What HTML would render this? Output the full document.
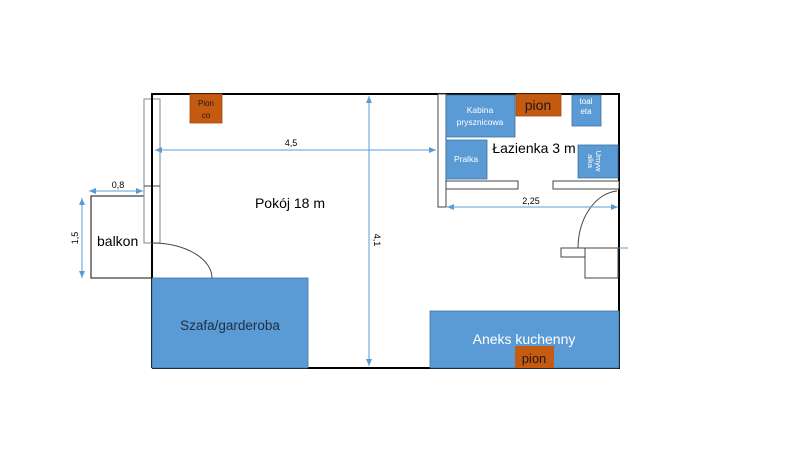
<!DOCTYPE html>
<html><head><meta charset="utf-8"><style>
html,body{margin:0;padding:0;background:#fff;}
svg{display:block;font-family:"Liberation Sans",sans-serif;}
</style></head><body>
<svg width="800" height="450" viewBox="0 0 800 450" xmlns="http://www.w3.org/2000/svg">
<defs>
<marker id="a" markerWidth="8" markerHeight="8" refX="7" refY="4" orient="auto-start-reverse" markerUnits="userSpaceOnUse"><path d="M0,1 L7,4 L0,7 z" fill="#5b9bd5"/></marker>
</defs>
<!-- balcony -->
<rect x="91" y="196" width="61" height="82" fill="none" stroke="#444" stroke-width="1.3"/>
<!-- outer walls -->
<path d="M152,368 L152,94 L619,94 L619,368 L152,368" fill="none" stroke="#000" stroke-width="2"/>
<!-- left window strip -->
<rect x="144" y="99" width="16" height="144" fill="#fff" stroke="#7a8a96" stroke-width="1"/>
<line x1="144" y1="186" x2="160" y2="186" stroke="#444" stroke-width="1"/>
<line x1="152" y1="94" x2="152" y2="243" stroke="#000" stroke-width="2"/>
<!-- left door arc -->
<path d="M152,243 A60,35 0 0 1 212,278" fill="none" stroke="#444" stroke-width="1"/>
<!-- bathroom partition -->
<rect x="438" y="94" width="8" height="113" fill="#fff" stroke="#444" stroke-width="1"/>
<!-- shelves -->
<rect x="446" y="181" width="72" height="8" fill="#fff" stroke="#444" stroke-width="1"/>
<rect x="553" y="181" width="66" height="8" fill="#fff" stroke="#444" stroke-width="1"/>
<!-- bathroom items -->
<rect x="446" y="95" width="69" height="42" fill="#5b9bd5" stroke="#41719c" stroke-width="0.8"/>
<text x="480" y="113" font-size="8.5" fill="#fff" text-anchor="middle">Kabina</text>
<text x="480" y="125" font-size="8.5" fill="#fff" text-anchor="middle">prysznicowa</text>
<rect x="516" y="94" width="45" height="22" fill="#c55a11" stroke="#a04a0e" stroke-width="0.8"/>
<text x="538" y="110" font-size="14" fill="#1a1a1a" text-anchor="middle">pion</text>
<rect x="572" y="95" width="29" height="31" fill="#5b9bd5" stroke="#41719c" stroke-width="0.8"/>
<text x="586" y="104" font-size="8" fill="#fff" text-anchor="middle">toal</text>
<text x="586" y="114" font-size="8" fill="#fff" text-anchor="middle">eta</text>
<rect x="446" y="140" width="41" height="39" fill="#5b9bd5" stroke="#41719c" stroke-width="0.8"/>
<text x="466" y="162" font-size="8.5" fill="#fff" text-anchor="middle">Pralka</text>
<rect x="578" y="145" width="40" height="33" fill="#5b9bd5" stroke="#41719c" stroke-width="0.8"/>
<text transform="translate(596,161) rotate(90)" font-size="7.5" fill="#fff" text-anchor="middle">Umyw</text>
<text transform="translate(588,161) rotate(90)" font-size="7.5" fill="#fff" text-anchor="middle">alka</text>
<text x="534" y="153" font-size="14" fill="#000" text-anchor="middle">Łazienka 3 m</text>
<!-- right door -->
<path d="M617,191 A42,58 0 0 0 578,248" fill="none" stroke="#444" stroke-width="1"/>
<line x1="578" y1="248" x2="628" y2="248" stroke="#5b9bd5" stroke-width="1"/>
<rect x="561" y="248" width="24" height="9" fill="#fff" stroke="#444" stroke-width="1"/>
<rect x="585" y="248" width="33" height="30" fill="#fff" stroke="#444" stroke-width="1"/>
<!-- wardrobe -->
<rect x="152" y="278" width="156" height="90" fill="#5b9bd5" stroke="#41719c" stroke-width="0.8"/>
<text x="230" y="330" font-size="13.5" fill="#1f2d3d" text-anchor="middle">Szafa/garderoba</text>
<!-- kitchen -->
<rect x="430" y="311" width="189" height="57" fill="#5b9bd5" stroke="#41719c" stroke-width="0.8"/>
<text x="524" y="344" font-size="14" fill="#fff" text-anchor="middle">Aneks kuchenny</text>
<rect x="515" y="346" width="39" height="22" fill="#c55a11"/>
<text x="534" y="363" font-size="13" fill="#1a1a1a" text-anchor="middle">pion</text>
<!-- Pion co -->
<rect x="190" y="94" width="32" height="29" fill="#c55a11" stroke="#a04a0e" stroke-width="0.8"/>
<text x="206" y="106" font-size="8" fill="#1a1a1a" text-anchor="middle">Pion</text>
<text x="206" y="118" font-size="8" fill="#1a1a1a" text-anchor="middle">co</text>
<!-- dimension lines -->
<line x1="155" y1="150" x2="436" y2="150" stroke="#5b9bd5" stroke-width="1" marker-start="url(#a)" marker-end="url(#a)"/>
<text x="291" y="146" font-size="9" fill="#000" text-anchor="middle">4,5</text>
<line x1="369" y1="96" x2="369" y2="366" stroke="#5b9bd5" stroke-width="1" marker-start="url(#a)" marker-end="url(#a)"/>
<text transform="translate(374,240) rotate(90)" font-size="9" fill="#000" text-anchor="middle">4,1</text>
<line x1="447" y1="207" x2="618" y2="207" stroke="#5b9bd5" stroke-width="1" marker-start="url(#a)" marker-end="url(#a)"/>
<text x="531" y="204" font-size="9" fill="#000" text-anchor="middle">2,25</text>
<line x1="89" y1="191" x2="143" y2="191" stroke="#5b9bd5" stroke-width="1" marker-start="url(#a)" marker-end="url(#a)"/>
<text x="118" y="188" font-size="9" fill="#000" text-anchor="middle">0,8</text>
<line x1="82" y1="198" x2="82" y2="278" stroke="#5b9bd5" stroke-width="1" marker-start="url(#a)" marker-end="url(#a)"/>
<text transform="translate(78,238) rotate(-90)" font-size="9" fill="#000" text-anchor="middle">1,5</text>
<text x="97" y="246" font-size="14" fill="#000">balkon</text>
<text x="290" y="208" font-size="14" fill="#000" text-anchor="middle">Pokój 18 m</text>
</svg>
</body></html>
